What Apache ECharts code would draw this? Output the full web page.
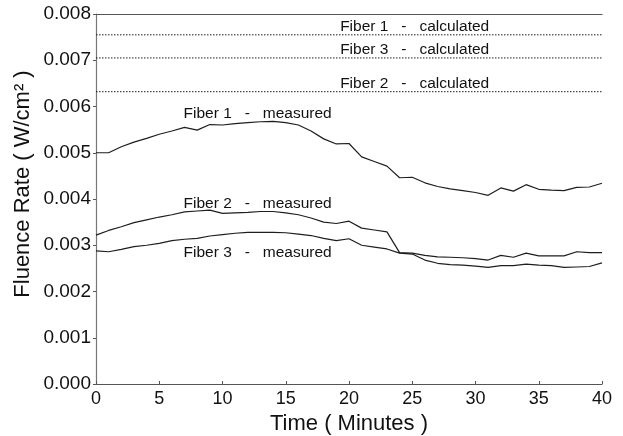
<!DOCTYPE html>
<html>
<head>
<meta charset="utf-8">
<script src="https://cdn.jsdelivr.net/npm/echarts@6/dist/echarts.min.js"></script>
<style>
html,body{margin:0;padding:0;background:#fff;}
#chart{width:623px;height:436px;}
</style>
</head>
<body>
<div id="chart"></div>
<script>
// Time in minutes
const minutes = [0,1,2,3,4,5,6,7,8,9,10,11,12,13,14,15,16,17,18,19,20,21,22,23,24,25,26,27,28,29,30,31,32,33,34,35,36,37,38,39,40];
// Measured fluence rate (W/cm^2)
const fiber1Measured = [0.00500,0.00500,0.00513,0.00523,0.00531,0.00540,0.00547,0.00555,0.00549,0.00561,0.00560,0.00563,0.00565,0.00567,0.00568,0.00565,0.00560,0.00547,0.00530,0.00519,0.00520,0.00491,0.00481,0.00471,0.00446,0.00447,0.00435,0.00427,0.00422,0.00418,0.00414,0.00408,0.00424,0.00417,0.00431,0.00421,0.00419,0.00418,0.00425,0.00426,0.00434];
const fiber2Measured = [0.00322,0.00332,0.00340,0.00349,0.00355,0.00361,0.00366,0.00372,0.00374,0.00376,0.00369,0.00370,0.00371,0.00373,0.00373,0.00370,0.00366,0.00359,0.00350,0.00347,0.00352,0.00337,0.00333,0.00329,0.00284,0.00283,0.00278,0.00275,0.00274,0.00273,0.00271,0.00268,0.00278,0.00274,0.00283,0.00277,0.00277,0.00277,0.00286,0.00284,0.00284];
const fiber3Measured = [0.00288,0.00286,0.00291,0.00297,0.00300,0.00304,0.00310,0.00313,0.00315,0.00320,0.00323,0.00326,0.00328,0.00328,0.00328,0.00327,0.00324,0.00321,0.00315,0.00310,0.00314,0.00300,0.00296,0.00292,0.00283,0.00281,0.00268,0.00261,0.00258,0.00257,0.00255,0.00252,0.00256,0.00256,0.00259,0.00257,0.00256,0.00252,0.00253,0.00254,0.00262];
// Calculated fluence rate (constant, W/cm^2)
const calcSpan = [0, 40];
const fiber1Calculated = 0.00755;
const fiber3Calculated = 0.00705;
const fiber2Calculated = 0.00632;
// Axis ticks
const xTicks = [0,5,10,15,20,25,30,35,40];
const yTicks = [0.000,0.001,0.002,0.003,0.004,0.005,0.006,0.007,0.008];

const font = '"Liberation Sans", Arial, Helvetica, sans-serif';
const lineColor = '#1e1e1e';
const axisColor = '#555';

function pairs(xs, ys){ return xs.map((x,i)=>[x, ys[i]]); }
function flat(v){ return calcSpan.map(x=>[x, v]); }

function labelPoint(x, y, text, vAlign){
  return {
    coord:[x, y], symbol:'circle', symbolSize:0,
    label:{show:true, position:'inside', formatter:text, color:'#111',
      fontFamily:font, fontSize:15.5, align:'left', verticalAlign:vAlign}
  };
}

const chart = echarts.init(document.getElementById('chart'), null, {renderer:'canvas'});
const option = {
  animation:false,
  backgroundColor:'#fff',
  grid:{left:96, right:21, top:14, bottom:52, containLabel:false, outerBoundsMode:'none'},
  xAxis:[{
    type:'value', min:xTicks[0], max:xTicks[xTicks.length-1], interval:5,
    name:'Time ( Minutes )', nameLocation:'middle', nameGap:26,
    nameTextStyle:{fontFamily:font, fontSize:22, color:'#111'},
    axisLine:{show:true, lineStyle:{color:axisColor, width:1.2}},
    axisTick:{show:true, inside:true, length:3, lineStyle:{color:axisColor}},
    axisLabel:{fontFamily:font, fontSize:18, color:'#111', margin:6},
    splitLine:{show:false}
  },{
    type:'value', position:'top', min:0, max:40,
    axisLine:{show:true, onZero:false, lineStyle:{color:axisColor, width:1.2}},
    axisTick:{show:false}, axisLabel:{show:false}, splitLine:{show:false}
  }],
  yAxis:{
    type:'value', min:yTicks[0], max:yTicks[yTicks.length-1], interval:0.001,
    axisLine:{show:true, lineStyle:{color:'#777', width:1.2}},
    axisTick:{show:true, inside:false, length:3, lineStyle:{color:axisColor}},
    axisLabel:{fontFamily:font, fontSize:19, color:'#111', margin:5,
      formatter:v=>v.toFixed(3)},
    splitLine:{show:false}
  },
  graphic:[{
    type:'text', x:23, y:184, rotation:Math.PI/2,
    style:{text:'Fluence Rate ( W/cm\u00B2 )', font:'22px "Liberation Sans", Arial, sans-serif',
      fill:'#111', align:'center', verticalAlign:'middle'}
  }],
  series:[
    {type:'line', name:'Fiber 1 - measured', data:pairs(minutes, fiber1Measured), showSymbol:false,
      lineStyle:{color:lineColor, width:1.2}, silent:true,
      markPoint:{silent:true, data:[labelPoint(6.92, 0.00585, 'Fiber 1   -   measured', 'middle')]}},
    {type:'line', name:'Fiber 2 - measured', data:pairs(minutes, fiber2Measured), showSymbol:false,
      lineStyle:{color:lineColor, width:1.2}, silent:true,
      markPoint:{silent:true, data:[labelPoint(6.92, 0.00389, 'Fiber 2   -   measured', 'middle')]}},
    {type:'line', name:'Fiber 3 - measured', data:pairs(minutes, fiber3Measured), showSymbol:false,
      lineStyle:{color:lineColor, width:1.2}, silent:true,
      markPoint:{silent:true, data:[labelPoint(6.92, 0.00284, 'Fiber 3   -   measured', 'middle')]}},
    {type:'line', name:'Fiber 1 - calculated', data:flat(fiber1Calculated), showSymbol:false,
      lineStyle:{color:lineColor, width:1, type:[1.5,1.5]}, silent:true,
      markPoint:{silent:true, data:[labelPoint(19.3, fiber1Calculated, 'Fiber 1   -   calculated', 'bottom')]}},
    {type:'line', name:'Fiber 3 - calculated', data:flat(fiber3Calculated), showSymbol:false,
      lineStyle:{color:lineColor, width:1, type:[1.5,1.5]}, silent:true,
      markPoint:{silent:true, data:[labelPoint(19.3, fiber3Calculated, 'Fiber 3   -   calculated', 'bottom')]}},
    {type:'line', name:'Fiber 2 - calculated', data:flat(fiber2Calculated), showSymbol:false,
      lineStyle:{color:lineColor, width:1, type:[1.5,1.5]}, silent:true,
      markPoint:{silent:true, data:[labelPoint(19.3, fiber2Calculated, 'Fiber 2   -   calculated', 'bottom')]}}
  ]
};
chart.setOption(option);
</script>
</body>
</html>
